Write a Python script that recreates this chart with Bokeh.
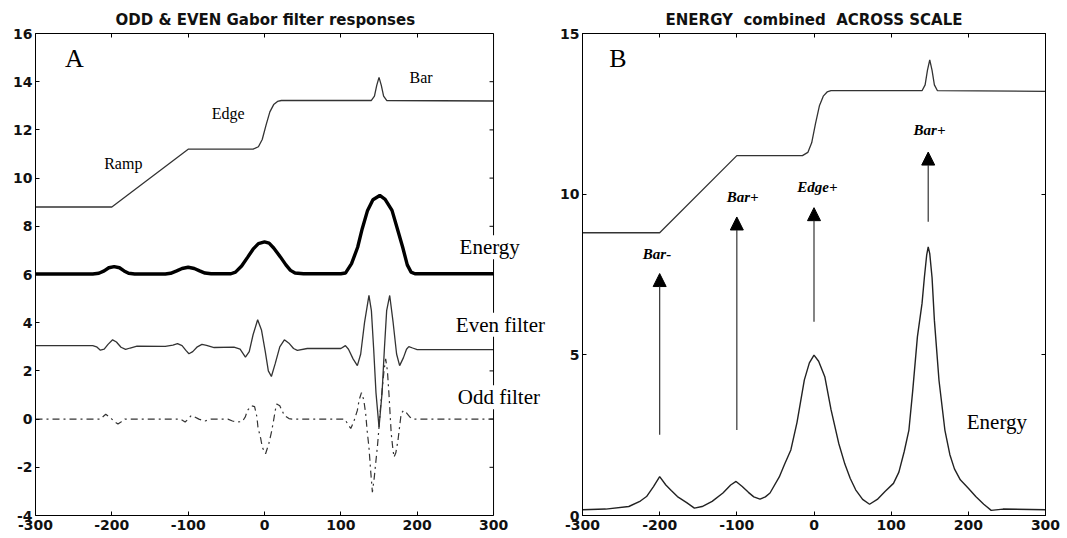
import math
from bokeh.plotting import figure
from bokeh.models import (Label, Arrow, NormalHead, ColumnDataSource, LinearAxis, FixedTicker,
                          Range1d, Span, Title)
from bokeh.layouts import row
from bokeh.embed import file_html
from bokeh.resources import INLINE

# ---------------- data ----------------
x_ticks = [-300, -200, -100, 0, 100, 200, 300]
a_y_ticks = [-4, -2, 0, 2, 4, 6, 8, 10, 12, 14, 16]
b_y_ticks = [0, 5, 10, 15]

# input signal (ramp, edge, bar)
sig_x = [-300, -200, -100, -15, -8, -3, 2, 7, 12, 17, 22, 140, 144, 147, 150, 153, 156, 160, 300]
sig_y = [8.8, 8.8, 11.2, 11.2, 11.3, 11.6, 12.2, 12.75, 13.05, 13.18, 13.22, 13.22, 13.4, 13.85, 14.18, 13.85, 13.4, 13.22, 13.2]

# panel A : energy (thick)
ea_x = [-300, -225, -217, -210, -204, -197, -190, -184, -178, -170, -130, -123, -115, -108, -100, -92, -85, -78, -70,
        -44, -38, -30, -22, -15, -8, 0, 6, 12, 21, 28, 34, 40, 51, 100, 106, 114, 122, 128, 135, 142, 151, 158, 167,
        174, 181, 187, 192, 197, 300]
ea_y = [6.02, 6.02, 6.05, 6.15, 6.28, 6.33, 6.28, 6.15, 6.05, 6.02, 6.02, 6.05, 6.15, 6.25, 6.3, 6.25, 6.15, 6.06, 6.03,
        6.03, 6.1, 6.35, 6.72, 7.05, 7.28, 7.35, 7.3, 7.1, 6.72, 6.4, 6.17, 6.06, 6.03, 6.03, 6.06, 6.45, 7.13, 7.9, 8.66,
        9.1, 9.28, 9.12, 8.66, 7.9, 7.13, 6.4, 6.1, 6.03, 6.03]

# panel A : even filter
ev_x = [-300, -225, -220, -215, -210, -205, -199, -194, -188, -182, -176, -167, -130, -120, -114, -108, -103, -99, -94,
        -88, -82, -76, -66, -40, -32, -25, -20, -15, -9, -4, 1, 5, 9, 14, 20, 26, 32, 38, 43, 56, 100, 106, 110, 116,
        121.6, 126, 131, 136.8, 140, 143, 146, 150, 154, 157, 160, 164, 168.5, 173, 177, 182, 186, 189, 194, 200, 300]
ev_y = [3.05, 3.05, 3.0, 2.86, 2.9, 3.1, 3.29, 3.2, 2.98, 2.89, 2.95, 3.03, 3.02, 3.07, 3.13, 3.05, 2.85, 2.71, 2.8,
        3.0, 3.1, 3.06, 2.97, 2.99, 2.9, 2.57, 2.8, 3.5, 4.12, 3.7, 2.8, 2.0, 1.77, 2.3, 3.0, 3.29, 3.15, 2.93, 2.85, 2.93,
        2.93, 3.05, 2.9, 2.5, 2.22, 2.7, 4.0, 5.13, 4.5, 2.9, 1.1, -0.34, 1.1, 2.9, 4.5, 5.13, 4.0, 2.7, 2.22, 2.55,
        2.9, 3.01, 2.95, 2.88, 2.88]

# panel A : odd filter
od_x = [-300, -215, -211, -208, -204, -200, -196, -192, -188, -183, -110, -104, -100, -96, -92, -86, -78, -70, -48,
        -42, -35, -29, -25, -22.5, -17, -13, -10, -8.6, -5, -2.9, 1.4, 5.8, 9, 11.5, 14, 16, 20, 26, 32, 36, 105, 109,
        113, 117, 121.6, 124, 127, 130, 132.5, 134.5, 136.8, 139, 141.3, 143.5, 145.6, 148, 150, 152, 154.4, 156.5,
        158.7, 161, 163, 164.5, 166, 168, 169.6, 172, 174.8, 177, 179, 182, 185, 190, 194, 300]
od_y = [0, 0, 0.12, 0.2, 0.1, 0, -0.12, -0.2, -0.12, 0, 0, -0.12, 0, 0.15, 0.1, 0, -0.08, 0, 0,
        -0.08, -0.12, -0.1, 0.1, 0.36, 0.55, 0.52, 0.1, -0.34, -0.8, -1.17, -1.44, -1.0, -0.55, -0.13, 0.35, 0.63, 0.55,
        0.15, 0.02, 0, 0, -0.2, -0.39, -0.1, 0.36, 0.8, 1.1, 0.8, 0.23, -0.5, -1.17, -2.13, -3.03, -2.5, -1.84, -1.1,
        -0.34, 0.5, 1.32, 2.0, 2.5, 2.0, 1.05, 0.2, -0.6, -1.2, -1.58, -1.4, -0.89, -0.3, 0.22, 0.36, 0.3, 0.1, 0, 0]

# panel B : energy combined across scale
eb_x = [-300, -270, -240, -225, -217, -208, -200, -192, -185, -177, -165, -155, -145, -132, -118, -108, -101, -93, -85,
        -78, -70, -63, -57, -45, -38, -30, -22, -12.5, -6, 0, 6, 14, 22, 32, 40, 47, 54, 63, 72, 82, 92, 103, 110, 117,
        123, 128, 134, 140, 143, 146, 148, 150, 153, 156, 162, 169.6, 176, 182, 189.6, 200, 209.6, 220, 229.6, 245, 300]
eb_y = [0.18, 0.2, 0.28, 0.45, 0.59, 0.9, 1.21, 0.95, 0.78, 0.59, 0.4, 0.23, 0.28, 0.44, 0.7, 0.95, 1.06, 0.9, 0.72,
        0.58, 0.51, 0.58, 0.7, 1.2, 1.6, 2.04, 2.9, 4.22, 4.75, 4.99, 4.8, 4.32, 3.3, 2.25, 1.6, 1.15, 0.8, 0.5, 0.35,
        0.5, 0.75, 1.0, 1.35, 2.0, 2.66, 3.9, 5.56, 6.6, 7.4, 8.1, 8.36, 8.15, 7.4, 6.08, 4.2, 2.66, 1.9, 1.45, 1.11,
        0.85, 0.59, 0.35, 0.16, 0.2, 0.18]

# panel B : arrows
arr_x = [-200, -100, 0, 148]
arr_y0 = [2.51, 2.66, 6.03, 9.14]
arr_y1 = [7.53, 9.29, 9.58, 11.31]

# annotation texts and anchors
a_small_text = ["Ramp", "Edge", "Bar"]
a_small_x = [-185, -47.5, 205]
a_small_y = [10.6, 12.67, 14.19]
a_big_text = ["Energy", "Even filter", "Odd filter"]
a_big_x = [295, 309, 307]
a_big_y = [7.13, 3.91, 0.91]
b_ital_text = ["Bar-", "Bar+", "Edge+", "Bar+"]
b_ital_x = [-203.5, -92.5, 4.4, 149.7]
b_ital_y = [8.15, 9.91, 10.22, 12.0]

title_a = "ODD & EVEN Gabor filter responses"
title_b = "ENERGY\u00a0\u00a0combined\u00a0\u00a0ACROSS SCALE"

SERIF = "Liberation Serif"
SANS = "DejaVu Sans"
H = 535
A_XMAX = 372   # panel A frame continues past x=300 to hold the side labels


def style_axis(ax, ticks, show_labels=True):
    ax.ticker = FixedTicker(ticks=ticks)
    ax.major_label_overrides = {t: str(t) for t in ticks}
    ax.major_tick_in = 4
    ax.major_tick_out = 0
    ax.minor_tick_in = 0
    ax.minor_tick_out = 0
    ax.axis_line_color = "black"
    ax.major_tick_line_color = "black"
    ax.major_label_text_font = SANS
    ax.major_label_text_font_size = "14px" if show_labels else "0px"
    ax.major_label_text_font_style = "bold"
    ax.major_label_text_color = "#111111"
    ax.major_label_standoff = 3 if show_labels else 0


def base(p):
    p.grid.visible = False
    p.background_fill_color = "white"
    p.border_fill_color = "white"


def lab(p, x, y, text, size, font=SERIF, fstyle="normal", bg=None):
    p.add_layout(Label(x=x, y=y, text=text, text_font=font, text_font_size=f"{size}px",
                       text_font_style=fstyle, text_align="center", text_baseline="middle",
                       text_color="black", background_fill_color=bg))


def add_title(p, text, align="center", offset=0):
    t = Title(text=text, text_font=SANS, text_font_size="15px", text_font_style="bold",
              align=align, standoff=9, offset=offset, text_color="#111111")
    p.add_layout(t, "above")


# ---------------- panel A ----------------
pA = figure(width=555, height=H, x_range=Range1d(-300, A_XMAX), y_range=Range1d(-4, 16),
            output_backend="svg", toolbar_location=None,
            min_border_left=35, min_border_right=7, min_border_top=33, min_border_bottom=20)
base(pA)
pA.outline_line_color = None
topA = LinearAxis()
pA.add_layout(topA, "above")
style_axis(pA.below[0], x_ticks)
style_axis(pA.left[0], a_y_ticks)
style_axis(topA, x_ticks, show_labels=False)
pA.below[0].bounds = (-300, 300)
topA.bounds = (-300, 300)
pA.below[0].major_label_standoff = 4
add_title(pA, title_a, align="left", offset=80)
# right edge of the box at x = 300, with inward ticks
pA.add_layout(Span(location=300, dimension="height", line_color="black", line_width=1))
pA.ray(x=[300] * len(a_y_ticks), y=a_y_ticks, length=4, length_units="screen", angle=math.pi,
       line_color="black", line_width=1)

pA.line(sig_x, sig_y, line_color="#333333", line_width=1.3)
pA.line(ea_x, ea_y, line_color="black", line_width=3.4)
pA.line(ev_x, ev_y, line_color="#333333", line_width=1.3)
pA.line(od_x, od_y, line_color="#333333", line_width=1.2, line_dash="7 4 2 4")
lab(pA, -249, 14.96, "A", 26)
for t, x, y in zip(a_small_text, a_small_x, a_small_y):
    lab(pA, x, y, t, 16)
for t, x, y in zip(a_big_text, a_big_x, a_big_y):
    lab(pA, x, y, t, 21, bg="white")

# ---------------- panel B ----------------
pB = figure(width=505, height=H, x_range=Range1d(-300, 300), y_range=Range1d(0, 15),
            output_backend="svg", toolbar_location=None,
            min_border_left=27, min_border_right=15, min_border_top=33, min_border_bottom=20)
base(pB)
pB.outline_line_color = "black"
topB = LinearAxis()
rightB = LinearAxis()
pB.add_layout(topB, "above")
pB.add_layout(rightB, "right")
style_axis(pB.below[0], x_ticks)
style_axis(pB.left[0], b_y_ticks)
style_axis(topB, x_ticks, show_labels=False)
style_axis(rightB, b_y_ticks, show_labels=False)
pB.below[0].major_label_standoff = 4
add_title(pB, title_b)

pB.line(sig_x, sig_y, line_color="#333333", line_width=1.3)
pB.line(eb_x, eb_y, line_color="#222222", line_width=1.4)
src = ColumnDataSource(dict(x=arr_x, y0=arr_y0, y1=arr_y1))
pB.add_layout(Arrow(end=NormalHead(size=13, fill_color="black", line_color="black"),
                    x_start="x", y_start="y0", x_end="x", y_end="y1", source=src,
                    line_color="#333333", line_width=1.2))
lab(pB, -254, 14.22, "B", 26)
for t, x, y in zip(b_ital_text, b_ital_x, b_ital_y):
    lab(pB, x, y, t, 15, fstyle="bold italic")
lab(pB, 237, 2.92, "Energy", 21)

layout = row(pA, pB)
open("out.html", "w").write(file_html(layout, INLINE))
